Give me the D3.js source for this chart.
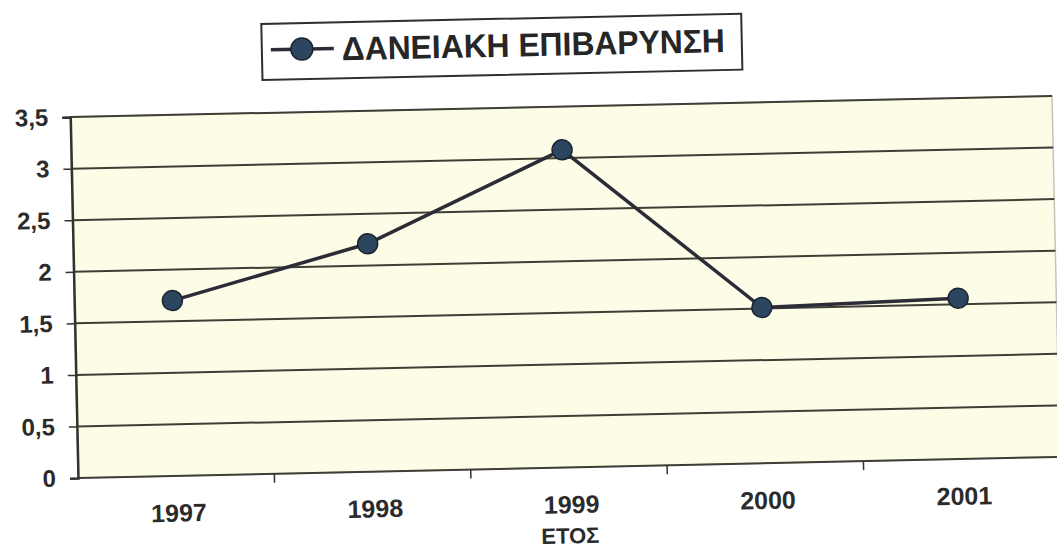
<!DOCTYPE html>
<html>
<head>
<meta charset="utf-8">
<script src="https://cdn.jsdelivr.net/npm/d3@7"></script>
<style>
  html, body { margin: 0; padding: 0; background: #fff; }
  svg { display: block; font-family: "Liberation Sans", Arial, sans-serif; }
</style>
</head>
<body>
<svg id="chart" width="1057" height="551"></svg>
<script>
// data
const years = ['1997', '1998', '1999', '2000', '2001'];
const values = [1.7, 2.21, 3.08, 1.51, 1.56];
const yTicks = [0, 0.5, 1, 1.5, 2, 2.5, 3, 3.5];
const seriesName = 'ΔΑΝΕΙΑΚΗ ΕΠΙΒΑΡΥΝΣΗ';
const xTitle = 'ΕΤΟΣ';

const svg = d3.select('#chart');

// plot box
const plotLeft = 78, plotRight = 1060, plotTop = 117, plotBottom = 478;

// the scan is tilted slightly, so rotate everything around the origin corner
const g = svg.append('g')
    .attr('transform', `rotate(-1.23, ${plotLeft}, ${plotBottom})`);

const x = d3.scaleBand().domain(years).range([plotLeft, plotRight]).padding(0);
const y = d3.scaleLinear().domain([0, 3.5]).range([plotBottom, plotTop]);

// background
g.append('rect')
    .attr('x', plotLeft).attr('y', plotTop)
    .attr('width', plotRight - plotLeft).attr('height', plotBottom - plotTop)
    .attr('fill', '#fdfde7')
    .attr('stroke', '#c4c4bc')
    .attr('stroke-width', 1.5);

// gridlines
g.append('g')
    .selectAll('line')
    .data(yTicks)
    .enter()
    .append('line')
    .attr('x1', plotLeft).attr('x2', plotRight)
    .attr('y1', d => y(d)).attr('y2', d => y(d))
    .attr('stroke', '#3e3e36')
    .attr('stroke-width', 2);

// y axis
const yAxis = g.append('g')
    .attr('transform', `translate(${plotLeft},0)`)
    .call(d3.axisLeft(y).tickValues(yTicks).tickSize(8).tickPadding(14)
        .tickFormat(d => String(d).replace('.', ',')));
yAxis.select('.domain').attr('stroke', '#33332e').attr('stroke-width', 2.5);
yAxis.selectAll('.tick line').attr('stroke', '#33332e').attr('stroke-width', 1.5);
yAxis.selectAll('.tick text')
    .attr('fill', '#2b2b2b')
    .style('font-size', '24px')
    .style('font-weight', 'bold');

// x axis labels at band centres
const xAxis = g.append('g')
    .attr('transform', `translate(0,${plotBottom})`)
    .call(d3.axisBottom(x).tickSize(0).tickPadding(28));
xAxis.select('.domain').remove();
xAxis.selectAll('.tick text')
    .attr('fill', '#2b2b2b')
    .attr('dx', 2)
    .style('font-size', '25px')
    .style('font-weight', 'bold');

// x tick marks between categories
g.append('g')
    .selectAll('line')
    .data(years.slice(1))
    .enter()
    .append('line')
    .attr('x1', d => x(d)).attr('x2', d => x(d))
    .attr('y1', plotBottom).attr('y2', plotBottom + 9)
    .attr('stroke', '#33332e')
    .attr('stroke-width', 1.5);

g.append('text')
    .attr('x', x(years[2]) + x.bandwidth() / 2)
    .attr('y', plotBottom + 76)
    .attr('text-anchor', 'middle')
    .attr('fill', '#2b2b2b')
    .style('font-size', '22px')
    .style('font-weight', 'bold')
    .text(xTitle);

// series line
const line = d3.line()
    .x((d, i) => x(years[i]) + x.bandwidth() / 2)
    .y(d => y(d));

g.append('path')
    .datum(values)
    .attr('d', line)
    .attr('fill', 'none')
    .attr('stroke', '#2c2c38')
    .attr('stroke-width', 3.5);

g.append('g')
    .selectAll('circle')
    .data(values)
    .enter()
    .append('circle')
    .attr('cx', (d, i) => x(years[i]) + x.bandwidth() / 2)
    .attr('cy', d => y(d))
    .attr('r', 10)
    .attr('fill', '#2d4660')
    .attr('stroke', '#1c2430')
    .attr('stroke-width', 1.5);

// legend
const legend = g.append('g');
legend.append('rect')
    .attr('x', 271).attr('y', 28)
    .attr('width', 480).attr('height', 56)
    .attr('fill', '#fff')
    .attr('stroke', '#2f2f2f')
    .attr('stroke-width', 2);
legend.append('line')
    .attr('x1', 280).attr('x2', 343)
    .attr('y1', 54).attr('y2', 54)
    .attr('stroke', '#2c2c38')
    .attr('stroke-width', 3.5);
legend.append('circle')
    .attr('cx', 311).attr('cy', 54)
    .attr('r', 11)
    .attr('fill', '#2d4660')
    .attr('stroke', '#1c2430')
    .attr('stroke-width', 1.5);
legend.append('text')
    .attr('x', 351).attr('y', 66)
    .attr('fill', '#262626')
    .attr('textLength', 383)
    .attr('lengthAdjust', 'spacingAndGlyphs')
    .style('font-size', '33px')
    .style('font-weight', 'bold')
    .text(seriesName);
</script>
</body>
</html>
